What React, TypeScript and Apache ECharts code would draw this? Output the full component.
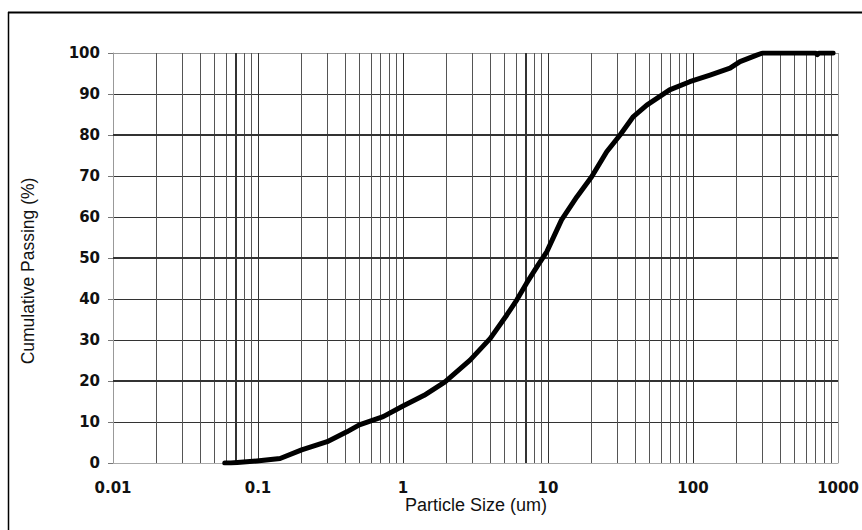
import React, { useEffect, useRef } from "react";
import * as echarts from "echarts";

const particleSize: number[] = [0.059, 0.065, 0.072, 0.098, 0.142, 0.2, 0.3, 0.41, 0.5, 0.73, 1.0, 1.4, 1.95, 2.9, 4.0, 5.2, 6.1, 7.1, 8.4, 9.8, 12.4, 15.8, 20, 25.4, 31.4, 38.8, 48, 69, 95, 131, 180, 211, 275, 302, 400, 700, 720, 740, 925];
const cumulativePassing: number[] = [0, 0, 0.1, 0.5, 1.1, 3.2, 5.2, 7.6, 9.3, 11.3, 13.9, 16.5, 19.8, 25.1, 30.4, 36.1, 39.8, 43.8, 47.9, 51.5, 59.3, 64.9, 69.8, 75.9, 80, 84.5, 87.3, 91, 93, 94.6, 96.3, 97.9, 99.5, 100, 100, 100, 99.6, 100, 100];

const decades: number[] = [0.01, 0.1, 1, 10, 100];
const multiples: number[] = [2, 3, 4, 5, 6, 7, 8, 9];
const boldVerticals: number[] = [0.07, 7];
const boldHorizontals: number[] = [20, 50, 80];

const xTitle = "Particle Size (um)";
const yTitle = "Cumulative Passing (%)";

export default function App() {
  const ref = useRef<HTMLDivElement>(null);
  useEffect(() => {
    if (!ref.current) return;
    const chart = echarts.init(ref.current, undefined, { renderer: "svg" });
    const minorVals: number[] = [];
    decades.forEach((d) => multiples.forEach((m) => minorVals.push(+(d * m).toPrecision(3))));
    const vLines = minorVals
      .filter((v) => !boldVerticals.some((b) => Math.abs(b - v) < 1e-9))
      .map((v) => ({ xAxis: v, lineStyle: { color: "#555", width: 1, type: "solid" } }));
    const vBold = boldVerticals.map((v) => ({ xAxis: v, lineStyle: { color: "#333", width: 2, type: "solid" } }));
    const hBold = boldHorizontals.map((v) => ({ yAxis: v, lineStyle: { color: "#333", width: 2, type: "solid" } }));
    const data = particleSize.map((x, i) => [x, cumulativePassing[i]]);

    chart.setOption({
      animation: false,
      backgroundColor: "#fff",
      grid: { left: 113, top: 53, right: 24, bottom: 67, containLabel: false },
      xAxis: {
        type: "log",
        logBase: 10,
        min: 0.01,
        max: 1000,
        axisLine: { show: true, lineStyle: { color: "#aaa", width: 1 } },
        axisTick: { show: false },
        axisLabel: {
          margin: 17,
          fontFamily: "DejaVu Sans",
          fontWeight: "bold",
          fontSize: 15,
          color: "#111",
          formatter: (v: number) => String(+v.toPrecision(3)),
        },
        splitLine: { show: true, lineStyle: { color: ["#999", "#333", "#333", "#333", "#333", "#999"], width: 1 } },
      },
      yAxis: {
        type: "value",
        min: 0,
        max: 100,
        interval: 10,
        axisLine: { show: true, lineStyle: { color: "#999", width: 1 } },
        axisTick: { show: true, length: 5, lineStyle: { color: "#777" } },
        axisLabel: {
          margin: 13,
          fontFamily: "DejaVu Sans",
          fontWeight: "bold",
          fontSize: 15,
          color: "#111",
        },
        splitLine: {
          show: true,
          lineStyle: {
            color: ["#aaa", "#333", "#333", "#333", "#333", "#333", "#333", "#333", "#333", "#333", "#999"],
            width: 1,
          },
        },
      },
      graphic: [
        { type: "line", shape: { x1: 8, y1: 12.5, x2: 862, y2: 12.5 }, style: { stroke: "#000", lineWidth: 2 } },
        { type: "line", shape: { x1: 8.5, y1: 12, x2: 8.5, y2: 530 }, style: { stroke: "#000", lineWidth: 1.5 } },
        {
          type: "text",
          x: 476,
          y: 505,
          style: { text: xTitle, font: "18px 'Liberation Sans', Arial, sans-serif", fill: "#111", textAlign: "center", textVerticalAlign: "middle" },
        },
        {
          type: "text",
          x: 28,
          y: 271,
          rotation: Math.PI / 2,
          style: { text: yTitle, font: "17.5px 'Liberation Sans', Arial, sans-serif", fill: "#111", textAlign: "center", textVerticalAlign: "middle" },
        },
      ],
      series: [
        {
          type: "line",
          data: [],
          z: 1,
          silent: true,
          markLine: {
            silent: true,
            symbol: "none",
            label: { show: false },
            animation: false,
            data: [...vLines, ...vBold, ...hBold],
          },
        },
        {
          type: "line",
          data,
          z: 5,
          showSymbol: false,
          smooth: false,
          lineStyle: { color: "#000", width: 5, cap: "round", join: "round" },
        },
      ],
    });
    return () => chart.dispose();
  }, []);
  return <div ref={ref} style={{ position: "absolute", left: 0, top: 0, width: 862, height: 530 }} />;
}
